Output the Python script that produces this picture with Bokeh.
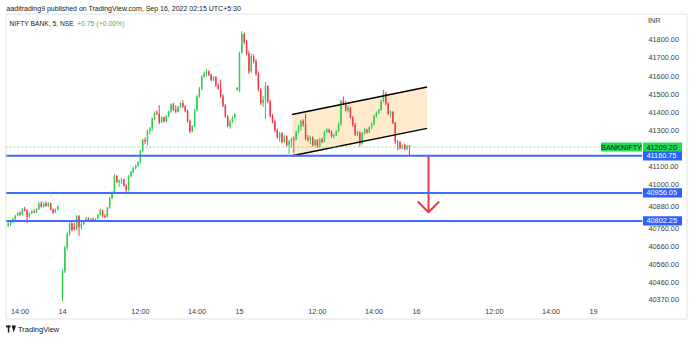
from bokeh.plotting import figure
from bokeh.models import Range1d, FixedTicker, NumeralTickFormatter, Span, ColumnDataSource
from bokeh.core.properties import value
from bokeh.embed import file_html
from bokeh.resources import INLINE

# ---------------- data (5-minute bars, index 0 = Sep 14 09:15, 75 bars per session) ----------------
idx13 = list(range(-23, -1))
open13 = [40778, 40788, 40795, 40812, 40830, 40845, 40838, 40868, 40860, 40825, 40845, 40855, 40850, 40868, 40898, 40880, 40900, 40885, 40898, 40865, 40848, 40865]
high13 = [40795, 40800, 40818, 40835, 40850, 40855, 40872, 40880, 40865, 40850, 40860, 40868, 40872, 40905, 40910, 40905, 40910, 40905, 40902, 40870, 40870, 40885]
low13 = [40768, 40775, 40790, 40805, 40825, 40830, 40832, 40855, 40790, 40820, 40838, 40845, 40845, 40862, 40875, 40875, 40880, 40878, 40860, 40840, 40845, 40860]
close13 = [40790, 40796, 40812, 40830, 40845, 40838, 40868, 40860, 40825, 40845, 40855, 40850, 40868, 40898, 40880, 40900, 40885, 40898, 40865, 40848, 40865, 40880]

idx14 = list(range(0, 75))
open14 = [40380, 40525, 40655, 40730, 40788, 40768, 40756, 40828, 40770, 40785, 40800, 40815, 40808, 40812, 40808,
          40814, 40835, 40860, 40828, 40825, 40875, 40928, 40958, 41050, 41015, 41025, 41030, 40995, 40975, 41048,
          41072, 41092, 41108, 41125, 41188, 41248, 41240, 41298, 41312, 41365, 41398, 41392, 41345, 41372, 41352,
          41380, 41405, 41445, 41415, 41405, 41430, 41452, 41432, 41408, 41352, 41295, 41325, 41412, 41488, 41530,
          41598, 41615, 41625, 41608, 41578, 41595, 41548, 41530, 41488, 41438, 41378, 41325, 41350, 41372, 41525]
high14 = [40535, 40665, 40740, 40795, 40800, 40792, 40835, 40835, 40800, 40805, 40825, 40822, 40818, 40820, 40816,
          40840, 40868, 40865, 40840, 40880, 40935, 40965, 41060, 41055, 41030, 41040, 41035, 41005, 41055, 41080,
          41100, 41112, 41130, 41195, 41255, 41262, 41305, 41320, 41372, 41405, 41412, 41440, 41380, 41378, 41385,
          41410, 41450, 41452, 41440, 41435, 41458, 41468, 41440, 41415, 41360, 41330, 41420, 41495, 41540, 41605,
          41625, 41640, 41632, 41615, 41600, 41600, 41560, 41580, 41500, 41445, 41385, 41360, 41378, 41395, 41540]
low14 = [40358, 40515, 40640, 40720, 40745, 40750, 40750, 40720, 40755, 40780, 40795, 40800, 40802, 40805, 40804,
         40810, 40830, 40822, 40818, 40820, 40870, 40920, 40955, 41010, 40990, 41005, 40990, 40955, 40965, 41040,
         41065, 41085, 41100, 41118, 41180, 41225, 41218, 41280, 41295, 41355, 41385, 41335, 41340, 41345, 41345,
         41372, 41395, 41408, 41395, 41400, 41425, 41425, 41400, 41345, 41285, 41290, 41318, 41405, 41480, 41522,
         41590, 41600, 41600, 41570, 41572, 41540, 41525, 41480, 41430, 41370, 41318, 41310, 41340, 41365, 41520]
close14 = [40525, 40655, 40730, 40788, 40752, 40756, 40828, 40770, 40785, 40800, 40815, 40808, 40812, 40808, 40814,
           40835, 40860, 40828, 40825, 40875, 40928, 40958, 41050, 41015, 41025, 41030, 40995, 40975, 41048, 41072,
           41092, 41108, 41125, 41188, 41248, 41240, 41298, 41312, 41365, 41398, 41392, 41345, 41372, 41352, 41380,
           41405, 41445, 41415, 41405, 41430, 41452, 41432, 41408, 41352, 41295, 41325, 41412, 41488, 41530, 41598,
           41615, 41625, 41608, 41578, 41595, 41548, 41530, 41488, 41438, 41378, 41325, 41350, 41372, 41390, 41535]

idx15 = list(range(75, 148))
open15 = [41520, 41728, 41830, 41790, 41725, 41625, 41710, 41680, 41612, 41525, 41450, 41470, 41545, 41462, 41380,
          41350, 41300, 41262, 41285, 41238, 41268, 41218, 41240, 41255, 41250, 41292, 41322, 41352, 41335, 41258,
          41248, 41262, 41220, 41248, 41212, 41250, 41240, 41292, 41305, 41292, 41270, 41276, 41296, 41338, 41462,
          41450, 41412, 41425, 41372, 41330, 41280, 41290, 41228, 41285, 41305, 41290, 41318, 41335, 41380, 41398,
          41415, 41462, 41505, 41448, 41392, 41402, 41342, 41238, 41235, 41202, 41220, 41198, 41215]
high15 = [41735, 41848, 41840, 41800, 41740, 41725, 41720, 41695, 41625, 41535, 41490, 41568, 41550, 41470, 41392,
          41360, 41310, 41292, 41290, 41275, 41272, 41250, 41262, 41268, 41300, 41330, 41360, 41362, 41392, 41275,
          41272, 41268, 41255, 41252, 41260, 41262, 41300, 41312, 41310, 41300, 41282, 41302, 41345, 41470, 41488,
          41465, 41438, 41430, 41380, 41342, 41298, 41295, 41292, 41315, 41310, 41325, 41345, 41388, 41405, 41420,
          41470, 41525, 41512, 41455, 41412, 41408, 41348, 41248, 41242, 41225, 41228, 41222, 41220]
low15 = [41512, 41722, 41775, 41715, 41612, 41618, 41670, 41600, 41515, 41440, 41430, 41365, 41450, 41370, 41340,
         41290, 41255, 41240, 41230, 41232, 41212, 41172, 41205, 41178, 41245, 41285, 41300, 41320, 41245, 41238,
         41225, 41212, 41215, 41205, 41205, 41232, 41235, 41285, 41285, 41262, 41255, 41268, 41290, 41325, 41440,
         41405, 41400, 41365, 41320, 41270, 41268, 41212, 41222, 41278, 41282, 41285, 41308, 41328, 41372, 41390,
         41408, 41455, 41440, 41385, 41372, 41335, 41225, 41192, 41195, 41198, 41190, 41192, 41160]
close15 = [41728, 41830, 41790, 41725, 41625, 41710, 41680, 41612, 41525, 41450, 41470, 41545, 41462, 41380, 41350,
           41300, 41262, 41285, 41238, 41268, 41218, 41240, 41255, 41250, 41292, 41322, 41352, 41335, 41258, 41248,
           41262, 41220, 41248, 41212, 41250, 41240, 41292, 41305, 41292, 41270, 41276, 41296, 41338, 41462, 41450,
           41412, 41425, 41372, 41330, 41280, 41290, 41228, 41285, 41305, 41290, 41318, 41335, 41380, 41398, 41415,
           41462, 41505, 41448, 41392, 41402, 41342, 41238, 41235, 41202, 41220, 41198, 41215, 41209.20]

# axis ticks / labels
time_ticks = [-18, 0, 33, 57, 75, 108, 132, 150, 183, 207, 225]
time_labels = ["14:00", "14", "12:00", "14:00", "15", "12:00", "14:00", "16", "12:00", "14:00", "19"]
price_ticks = [41800, 41700, 41600, 41500, 41400, 41300, 41100, 41000, 40880, 40760, 40660, 40560, 40460, 40370]

# drawings
last_price = 41209.20
levels = [41160.75, 40956.05, 40802.25]
channel_x = [97.3, 154.5]
channel_low = [41160.75, 41312]
channel_high = [41388, 41540]
arrow_x = 155.1
arrow_from = 41160.75
arrow_to = 40850

# ---------------- figure ----------------
W, H = 690, 337
LEFT, RIGHT, TOP, BOTTOM = 5, 48, 13, 33
x0, x1 = -24.15, 245.76
y0, y1 = 40341.5, 41944.9

UP, DOWN = "#2fcd50", "#f2364a"
TXT = "#131722"
AXC = "#3a3d46"
FONT = "Liberation Sans"
BLUE = "#2962ff"
GREEN = "#22dd55"

p = figure(width=W, height=H, x_range=Range1d(x0, x1), y_range=Range1d(y0, y1),
           output_backend="svg", toolbar_location=None, y_axis_location="right",
           min_border_left=LEFT, min_border_right=RIGHT, min_border_top=TOP, min_border_bottom=BOTTOM)
p.outline_line_color = None
p.xgrid.visible = False
p.ygrid.visible = False
p.background_fill_color = "white"
p.border_fill_color = "white"

# pixel -> data helpers for things drawn in the page margins
px_x = (x1 - x0) / (W - LEFT - RIGHT)
px_y = (y1 - y0) / (H - TOP - BOTTOM)
def cx(px):
    return x0 + (px - LEFT) * px_x
def cy(py):
    return y1 - (py - TOP) * px_y

bar = idx13 + idx14 + idx15
o = open13 + open14 + open15
h = high13 + high14 + high15
lo = low13 + low14 + low15
c = close13 + close14 + close15
top = [max(a, b) for a, b in zip(o, c)]
bot = [min(a, b) for a, b in zip(o, c)]
bot = [b if t - b >= 4 else t - 4 for t, b in zip(top, bot)]
col = [UP if cc >= oo else DOWN for oo, cc in zip(o, c)]
src = ColumnDataSource(dict(x=bar, h=h, l=lo, top=top, bot=bot, col=col))

# outer frame border
p.quad(left=[cx(5.5)], right=[cx(686.5)], top=[cy(13.5)], bottom=[cy(318.5)], fill_color=None,
       line_color="#dfe2ea", line_width=1, level="overlay")

# channel fill
p.varea(x=channel_x, y1=channel_low, y2=channel_high, fill_color="#ff9800", fill_alpha=0.2)

# levels
for lv in levels:
    p.add_layout(Span(location=lv, dimension="width", line_color="#3d6ef5", line_width=2))
p.add_layout(Span(location=last_price, dimension="width", line_color="#7fdc90", line_width=1, line_dash="2 2"))

# candles
p.segment(x0="x", y0="h", x1="x", y1="l", line_color="col", line_width=1, source=src)
p.vbar(x="x", width=0.62, top="top", bottom="bot", fill_color="col", line_color=None, source=src)

# channel borders
p.line(channel_x, channel_low, line_color="black", line_width=1.5)
p.line(channel_x, channel_high, line_color="black", line_width=1.5)

# arrow
head = 10.7
p.segment(x0=[arrow_x], y0=[arrow_from], x1=[arrow_x], y1=[arrow_to], line_color="#f23645", line_width=2)
p.multi_line(xs=[[arrow_x - head * px_x, arrow_x, arrow_x + head * px_x]],
             ys=[[arrow_to + head * px_y, arrow_to, arrow_to + head * px_y]],
             line_color="#f23645", line_width=2)

# axes
xa = p.xaxis[0]
xa.ticker = FixedTicker(ticks=time_ticks)
xa.major_label_overrides = {t: l for t, l in zip(time_ticks, time_labels)}
ya = p.yaxis[0]
ya.ticker = FixedTicker(ticks=price_ticks)
ya.formatter = NumeralTickFormatter(format="0.00")
for ax in (xa, ya):
    ax.axis_line_color = None
    ax.major_tick_line_color = None
    ax.minor_tick_line_color = None
    ax.major_tick_out = 0
    ax.major_tick_in = 0
    ax.major_label_text_font = FONT
    ax.major_label_text_font_size = "7.3px"
    ax.major_label_text_color = AXC
xa.major_label_standoff = 2
ya.major_label_standoff = 6

def txt(px, py, text, size="7px", color=TXT, align="left", style="normal"):
    p.text(x=[cx(px)], y=[cy(py)], text=[text], text_font=value(FONT), text_font_size=value(size),
           text_color=color, text_align=align, text_baseline="middle", text_font_style=style, level="overlay")

txt(6, 7.5, "aaditrading9 published on TradingView.com, Sep 16, 2022 02:15 UTC+5:30")
txt(9, 22.5, "NIFTY BANK, 5, NSE", size="6.7px")
txt(76.5, 22.5, "+0.75 (+0.00%)", size="6.9px", color="#4caf50")
txt(647.5, 20, "INR", size="7.3px", color=AXC)
txt(17.5, 328.5, "TradingView", size="7.5px")

# TradingView logo (simple shapes)
p.quad(left=[cx(5.5), cx(7.3)], right=[cx(10), cx(8.8)], top=[cy(325), cy(325)], bottom=[cy(326.8), cy(332)],
       fill_color=TXT, line_color=None, level="overlay")
p.patch(x=[cx(11.2), cx(15.5), cx(13.2)], y=[cy(325), cy(325), cy(332)], fill_color=TXT, line_color=None,
        level="overlay")

# price-scale labels
half = 4.6 * px_y
p.quad(left=[cx(600.5), cx(642.5)], right=[cx(641.5), cx(681.5)], top=[last_price + half] * 2,
       bottom=[last_price - half] * 2, fill_color=GREEN, line_color=None, level="overlay")
p.text(x=[cx(621), cx(646)], y=[last_price] * 2, text=["BANKNIFTY", f"{last_price:.2f}"],
       text_align=["center", "left"], text_baseline="middle", text_font=value(FONT),
       text_font_size=value("7.3px"), text_color=TXT, level="overlay")
p.quad(left=[cx(642.5)] * 3, right=[cx(681.5)] * 3, top=[lv + half for lv in levels],
       bottom=[lv - half for lv in levels], fill_color=BLUE, line_color=None, level="overlay")
p.text(x=[cx(646)] * 3, y=levels, text=[f"{lv:.2f}" for lv in levels], text_baseline="middle",
       text_font=value(FONT), text_font_size=value("7.3px"), text_color="white", level="overlay")

open("out.html", "w").write(file_html(p, INLINE))
